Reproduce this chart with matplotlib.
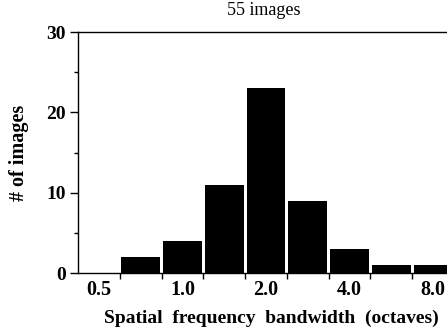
import numpy as np
import matplotlib
matplotlib.use("Agg")
import matplotlib.pyplot as plt
from matplotlib.ticker import MultipleLocator

# half-octave bins, centres in log2(octaves)
bin_centers = [-1.0, -0.5, 0.0, 0.5, 1.0, 1.5, 2.0, 2.5, 3.0]
counts = [0, 2, 4, 11, 23, 9, 3, 1, 1]
tick_pos = [-1.0, 0.0, 1.0, 2.0, 3.0]
tick_labels = ["0.5", "1.0", "2.0", "4.0", "8.0"]
bin_edges = [-0.75, -0.25, 0.25, 0.75, 1.25, 1.75, 2.25, 2.75]

plt.rcParams['font.family'] = ['Liberation Serif', 'DejaVu Serif']

fig = plt.figure(figsize=(4.47, 3.34), dpi=100)
ax = fig.add_axes([0.1745, 0.1826, 0.83, 0.7214])

ax.bar(bin_centers, counts, width=0.465, color='black', edgecolor='none')

ax.set_xlim(-1.25, 3.19)
ax.set_ylim(0, 30)

ax.set_xticks(tick_pos)
ax.set_xticklabels(tick_labels, fontsize=14.5, fontweight='bold')
ax.set_xticks(bin_edges, minor=True)
ax.tick_params(axis='x', which='major', length=0, pad=5)
ax.tick_params(axis='x', which='minor', length=4, width=1, direction='out')

ax.set_yticks([0, 10, 20, 30])
ax.set_yticklabels(["0", "10", "20", "30"], fontsize=14, fontweight='bold')
ax.yaxis.set_minor_locator(MultipleLocator(5))
ax.tick_params(axis='y', which='major', length=6, width=1, direction='out', pad=3)
ax.tick_params(axis='y', which='minor', length=3, width=1, direction='out')

ax.spines['right'].set_visible(False)
for s in ['bottom', 'left', 'top']:
    ax.spines[s].set_linewidth(1)

ax.set_title("55 images", fontsize=13, pad=12)
ax.set_xlabel("Spatial  frequency  bandwidth  (octaves)", fontsize=14,
              fontweight='bold', labelpad=7)
ax.xaxis.label.set_x(0.52)
ax.set_ylabel("# of images", fontsize=14.5, fontweight='bold', labelpad=12)

fig.savefig("out.png", dpi=100)
